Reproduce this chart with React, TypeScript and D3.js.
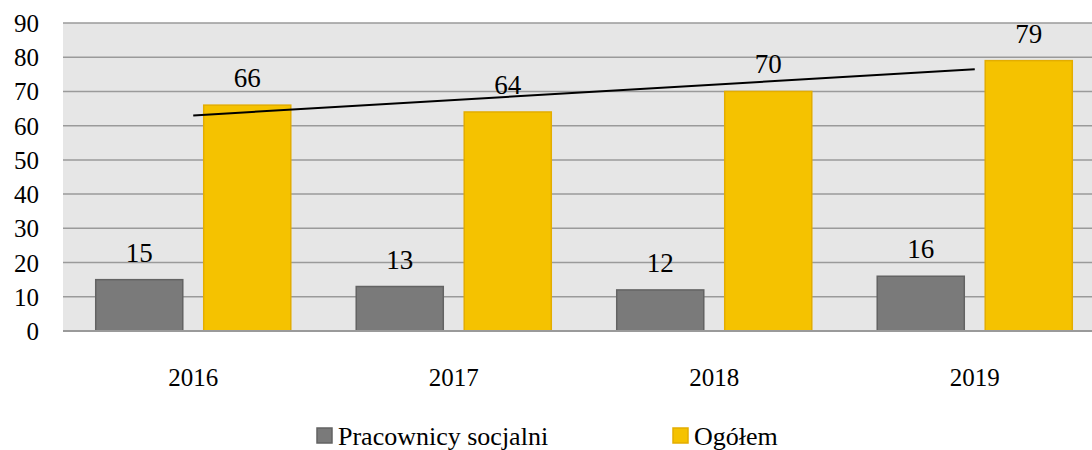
import React from "react";
import * as d3 from "d3";

// chart data
const years = ["2016", "2017", "2018", "2019"];
const socialWorkers = [15, 13, 12, 16];
const total = [66, 64, 70, 79];
const yTicks = [0, 10, 20, 30, 40, 50, 60, 70, 80, 90];
const seriesNames = ["Pracownicy socjalni", "Ogółem"];

const W = 1092;
const H = 450;
const FONT = "'Liberation Serif', 'Times New Roman', serif";

export default function App() {
  const x = d3.scaleBand().domain(years).range([63, 1105]).paddingInner(0).paddingOuter(0);
  const inner = d3.scaleBand().domain(["a", "b"]).range([0, x.bandwidth()]).paddingInner(0.194).paddingOuter(0.303);
  const y = d3.scaleLinear().domain([0, 90]).range([331, 23]);

  // linear trendline over "Ogółem"
  const idx = total.map((_, i) => i);
  const mx = d3.mean(idx)!;
  const my = d3.mean(total)!;
  const slope = d3.sum(idx, (i) => (i - mx) * (total[i] - my)) / d3.sum(idx, (i) => (i - mx) ** 2);
  const icpt = my - slope * mx;
  const line = d3
    .line<number>()
    .x((i) => x(years[i])! + x.bandwidth() / 2)
    .y((i) => y(icpt + slope * i));

  const series = [
    { vals: socialWorkers, key: "a", fill: "#7a7a7a", stroke: "#636363" },
    { vals: total, key: "b", fill: "#f5c200", stroke: "#e3ad00" },
  ];
  const legendX = [317, 673];

  return (
    <svg width={W} height={H} style={{ position: "absolute", left: 0, top: 0 }} fontFamily={FONT}>
      <rect x={63} y={y(90)} width={W - 63} height={y(0) - y(90)} fill="#e6e6e6" />
      {yTicks.map((t) =>
        t > 0 ? <line key={"g" + t} x1={63} x2={W} y1={y(t)} y2={y(t)} stroke="#9a9a9a" strokeWidth={1.5} /> : null
      )}
      {yTicks.map((t) => (
        <text key={"t" + t} x={39} y={y(t) + 9} textAnchor="end" fontSize={25} fill="#000">
          {String(t)}
        </text>
      ))}
      {series.map((s) =>
        years.map((yr, i) => (
          <rect
            key={"r" + s.key + yr}
            x={x(yr)! + inner(s.key)!}
            y={y(s.vals[i])}
            width={inner.bandwidth()}
            height={y(0) - y(s.vals[i])}
            fill={s.fill}
            stroke={s.stroke}
            strokeWidth={1.5}
          />
        ))
      )}
      {series.map((s) =>
        years.map((yr, i) => (
          <text
            key={"l" + s.key + yr}
            x={x(yr)! + inner(s.key)! + inner.bandwidth() / 2}
            y={y(s.vals[i]) - 18}
            textAnchor="middle"
            fontSize={27}
            fill="#000"
          >
            {String(s.vals[i])}
          </text>
        ))
      )}
      <line x1={63} x2={W} y1={y(0)} y2={y(0)} stroke="#9a9a9a" strokeWidth={2} />
      <path d={line([0, idx.length - 1]) ?? ""} fill="none" stroke="#000" strokeWidth={2} />
      {years.map((yr) => (
        <text key={yr} x={x(yr)! + x.bandwidth() / 2} y={386} textAnchor="middle" fontSize={25} fill="#000">
          {yr}
        </text>
      ))}
      {seriesNames.map((n, i) => (
        <rect key={"k" + n} x={legendX[i]} y={428} width={15} height={15} fill={series[i].fill} stroke={series[i].stroke} strokeWidth={1.5} />
      ))}
      {seriesNames.map((n, i) => (
        <text key={"n" + n} x={legendX[i] + 21} y={445} fontSize={26} fill="#000">
          {n}
        </text>
      ))}
    </svg>
  );
}
